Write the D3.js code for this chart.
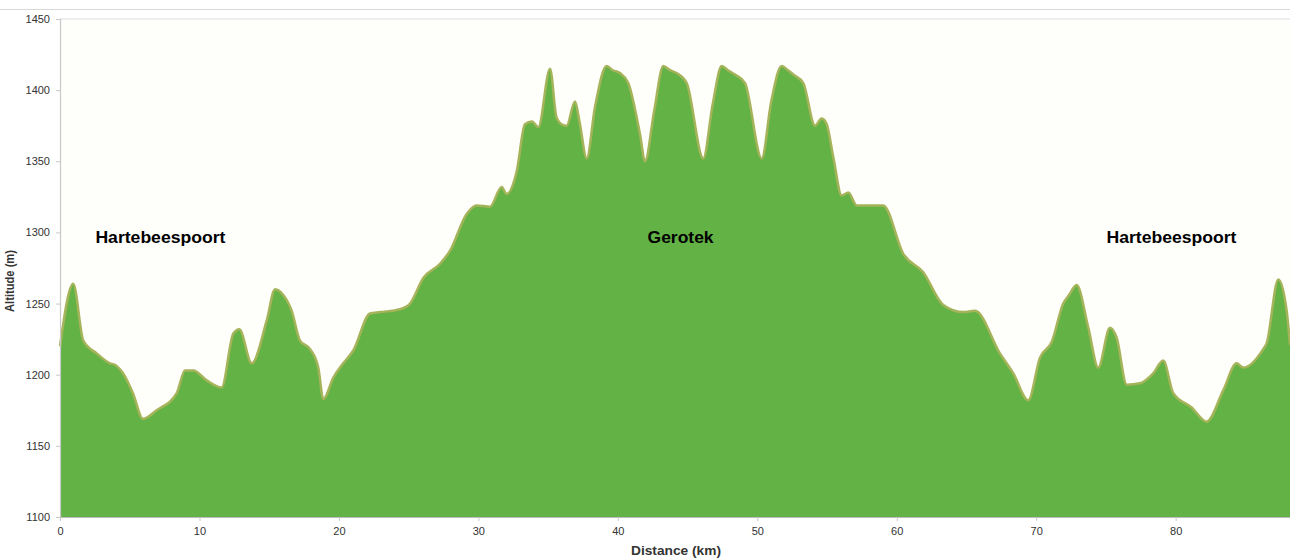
<!DOCTYPE html>
<html>
<head>
<meta charset="utf-8">
<script src="https://cdn.jsdelivr.net/npm/d3@7"></script>
<style>
  html, body { margin: 0; padding: 0; background: #ffffff; }
  svg { display: block; }
</style>
</head>
<body>
<svg id="chart" width="1290" height="560"></svg>
<script>
// Distance along route (km)
const distanceKm = [0, 0.95, 1.67, 2.63, 3.59, 3.94, 4.52, 5.23, 5.95, 6.93, 8.37, 8.96, 9.56, 10.52, 11.59,
  12.43, 12.86, 13.75, 14.82, 15.42, 16.01, 16.61, 17.21, 17.93, 18.52, 18.88, 19.60, 20.31, 21.03,
  22.23, 22.95, 24.38, 25.10, 26.05, 27.25, 27.96, 29.16, 29.88, 30.83, 31.67, 32.03, 32.75, 33.34,
  33.84, 34.3, 35.14, 35.6, 35.97, 36.33, 36.93, 37.25, 37.77, 38.36, 39.20, 39.65, 40.15, 40.75, 41.59,
  41.95, 42.6, 43.26, 43.74, 44.22, 44.94, 46.13, 46.8, 47.45, 47.90, 48.40, 49.12, 50.32, 51.0, 51.75,
  52.20, 52.58, 53.30, 54.14, 54.62, 54.98, 55.45, 56.05, 56.53, 57.13, 59.03, 60.47, 61.90, 63.34,
  64.77, 65.61, 67.40, 68.36, 69.43, 70.27, 71.11, 71.94, 72.35, 72.90, 73.74, 74.45, 75.29, 75.77,
  76.49, 77.44, 78.39, 79.11, 79.83, 81.15, 82.22, 83.41, 84.37, 84.84, 86.28, 86.52, 87.36, 87.96, 88.20];

// Altitude (m)
const altitudeM = [1220, 1264, 1224, 1215, 1208, 1207, 1201, 1187, 1169, 1175, 1187, 1203, 1203, 1196, 1191,
  1229, 1232, 1208, 1238, 1260, 1256, 1245, 1224, 1218, 1205, 1183, 1198, 1208, 1217,
  1243, 1244, 1246, 1250, 1268, 1278, 1287, 1313, 1319, 1318, 1332, 1327, 1343, 1376,
  1378, 1374, 1415, 1381, 1376, 1375, 1392, 1378, 1352, 1388, 1417, 1414, 1412, 1405, 1369,
  1350, 1385, 1417, 1414, 1412, 1405, 1352, 1390, 1417, 1414, 1411, 1405, 1352, 1392, 1417,
  1414, 1411, 1405, 1375, 1380, 1376, 1353, 1326, 1328, 1319, 1319, 1285, 1272, 1249,
  1244, 1245, 1215, 1201, 1182, 1212, 1223, 1250, 1256, 1263, 1233, 1205, 1233, 1226,
  1193, 1194, 1201, 1210, 1187, 1177, 1167, 1189, 1208, 1205, 1218, 1222, 1267, 1245, 1221];

// Tick labels
const xTicks = [0, 10, 20, 30, 40, 50, 60, 70, 80];
const yTicks = [1100, 1150, 1200, 1250, 1300, 1350, 1400, 1450];

// Place labels
const placeNames = ["Hartebeespoort", "Gerotek", "Hartebeespoort"];
const placeKm = [7.2, 44.5, 79.7];
const placeAlt = [1300, 1300, 1300];

const xTitle = "Distance (km)";
const yTitle = "Altitude (m)";

const data = distanceKm.map((d, i) => ({ km: d, alt: altitudeM[i] }));

const svg = d3.select("#chart");
const margin = { left: 60, right: 0, top: 19, bottom: 43 };
const W = 1290, H = 560;
const FONT = "'Liberation Sans', Arial, Helvetica, sans-serif";

const x = d3.scaleLinear().domain([0, 88.2]).range([margin.left, W - margin.right]);
const y = d3.scaleLinear().domain([1100, 1450]).range([H - margin.bottom, margin.top]);

// top border line
svg.append("line")
  .attr("x1", 0).attr("x2", W).attr("y1", 9.5).attr("y2", 9.5)
  .attr("stroke", "#d8d8d8").attr("stroke-width", 1);

// plot background
svg.append("rect")
  .attr("x", x(0)).attr("y", y(1450))
  .attr("width", x(88.2) - x(0)).attr("height", y(1100) - y(1450))
  .attr("fill", "#fefefb");

// top gridline
svg.append("line")
  .attr("x1", x(0)).attr("x2", W).attr("y1", y(1450)).attr("y2", y(1450))
  .attr("stroke", "#dddddd").attr("stroke-width", 1);

// area
const area = d3.area()
  .x(d => x(d.km))
  .y0(y(1100))
  .y1(d => y(d.alt))
  .curve(d3.curveMonotoneX);

const line = d3.line()
  .x(d => x(d.km))
  .y(d => y(d.alt))
  .curve(d3.curveMonotoneX);

svg.append("path").datum(data)
  .attr("d", area)
  .attr("fill", "#63b246");

svg.append("path").datum(data)
  .attr("d", line)
  .attr("fill", "none")
  .attr("stroke", "#a5b45a")
  .attr("stroke-width", 2.5)
  .attr("stroke-linejoin", "round");

// axes
const yAxis = d3.axisLeft(y).tickValues(yTicks).tickSize(4).tickPadding(6).tickFormat(d3.format("d"));
const xAxis = d3.axisBottom(x).tickValues(xTicks).tickSize(4).tickPadding(6).tickFormat(d3.format("d"));

const gy = svg.append("g").attr("transform", `translate(${x(0)},0)`).call(yAxis);
const gx = svg.append("g").attr("transform", `translate(0,${y(1100)})`).call(xAxis);

[gx, gy].forEach(g => {
  g.select(".domain").attr("stroke", "#c8c8c8").attr("stroke-width", 1.2);
  g.selectAll(".tick line").attr("stroke", "#c8c8c8");
  g.selectAll(".tick text")
    .attr("fill", "#333")
    .style("font-family", FONT)
    .style("font-size", "11px");
});
gx.select(".domain").attr("stroke", "#bbbbbb");

// axis titles
svg.append("text")
  .attr("x", 676).attr("y", 555)
  .attr("text-anchor", "middle")
  .attr("textLength", 90).attr("lengthAdjust", "spacingAndGlyphs")
  .style("font-family", FONT)
  .style("font-size", "12px").style("font-weight", "bold")
  .attr("fill", "#333")
  .text(xTitle);

svg.append("text")
  .attr("transform", `translate(14,281) rotate(-90)`)
  .attr("text-anchor", "middle")
  .attr("textLength", 62).attr("lengthAdjust", "spacingAndGlyphs")
  .style("font-family", FONT)
  .style("font-size", "12px").style("font-weight", "bold")
  .attr("fill", "#333")
  .text(yTitle);

// place labels
const placeLen = [130, 66, 130];
svg.selectAll("text.place").data(placeNames).enter().append("text")
  .attr("class", "place")
  .attr("x", (d, i) => x(placeKm[i]))
  .attr("y", (d, i) => y(placeAlt[i]) + 11)
  .attr("text-anchor", "middle")
  .attr("textLength", (d, i) => placeLen[i]).attr("lengthAdjust", "spacingAndGlyphs")
  .style("font-family", FONT)
  .style("font-size", "16px").style("font-weight", "bold")
  .attr("fill", "#000")
  .text(d => d);
</script>
</body>
</html>
